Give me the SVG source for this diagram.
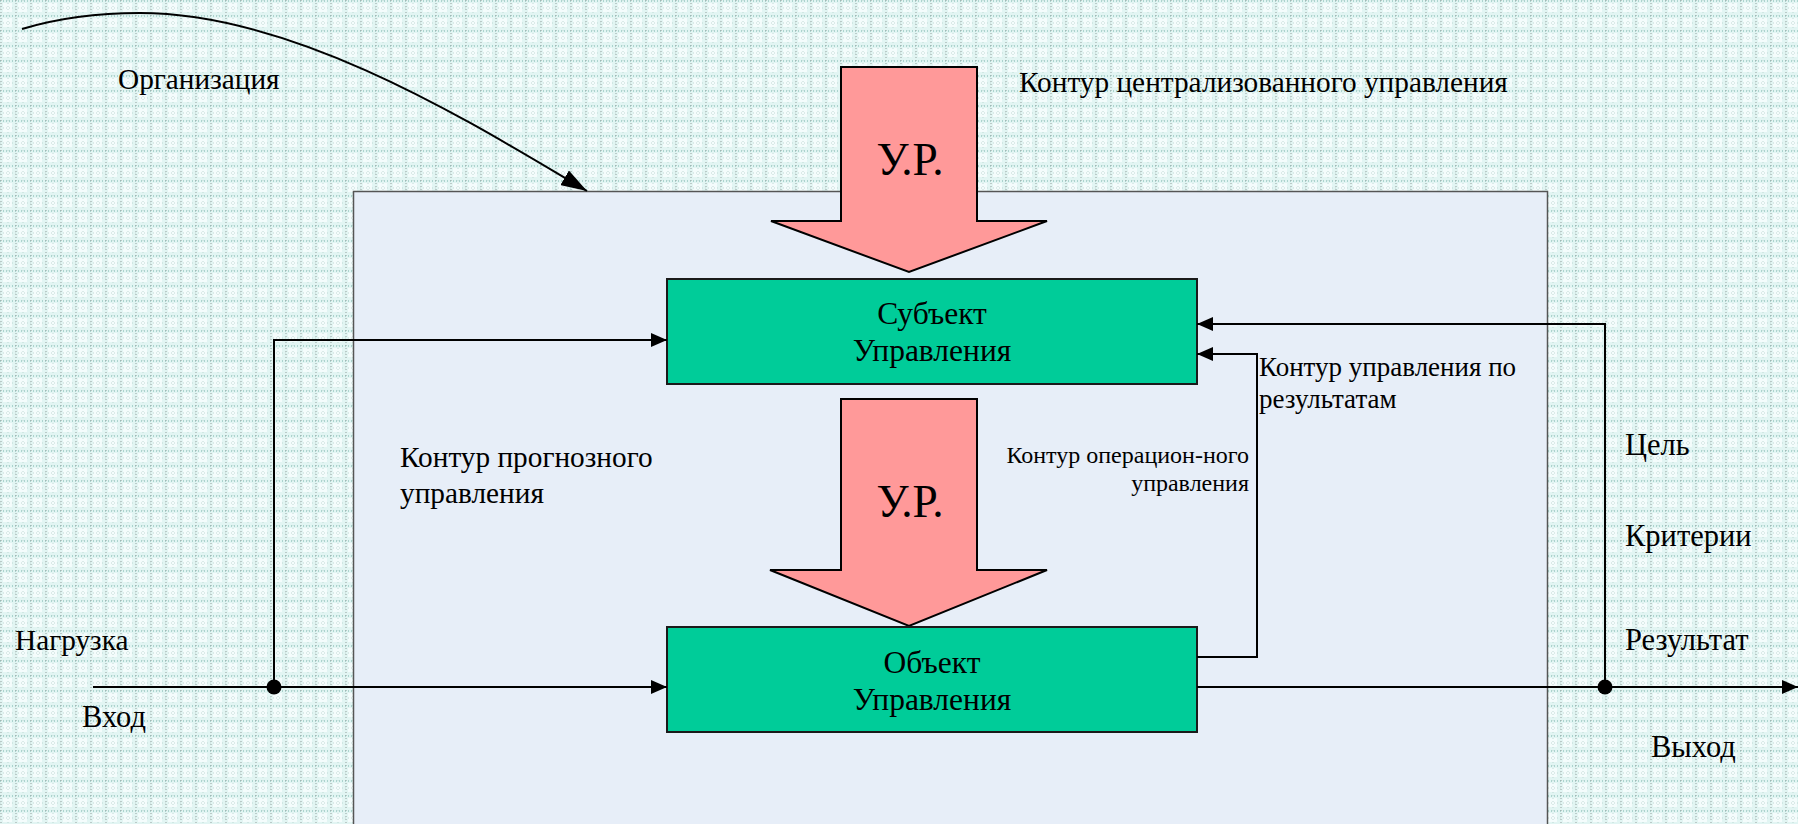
<svg xmlns="http://www.w3.org/2000/svg" width="1798" height="824" viewBox="0 0 1798 824">
<defs>
<pattern id="grid" width="15" height="15" patternUnits="userSpaceOnUse">
<rect width="15" height="15" fill="#e2f5f3"/>
<rect x="3" y="3" width="9" height="9" fill="#f4fcfc"/>
<line x1="0" y1="1" x2="15" y2="1" stroke="#76b3aa" stroke-width="1" stroke-dasharray="1 2"/>
<line x1="1" y1="0" x2="1" y2="15" stroke="#939f9d" stroke-width="1" stroke-dasharray="1 2"/>
<line x1="0" y1="8" x2="15" y2="8" stroke="#c0d9d5" stroke-width="1" stroke-dasharray="1 2"/>
<line x1="8" y1="0" x2="8" y2="15" stroke="#c0d9d5" stroke-width="1" stroke-dasharray="1 2"/>
</pattern>
<marker id="ah" markerUnits="userSpaceOnUse" markerWidth="16" markerHeight="14" refX="16" refY="7" orient="auto">
<path d="M0,0 L16,7 L0,14 Z" fill="#000"/>
</marker>
<marker id="ahBig" markerUnits="userSpaceOnUse" markerWidth="26" markerHeight="17" refX="26" refY="8.5" orient="auto">
<path d="M0,0 L26,8.5 L0,17 Z" fill="#000"/>
</marker>
<style>
text{font-family:'Liberation Serif','DejaVu Serif','Times New Roman',serif;fill:#000}
.t{font-size:29.3px}
.r{font-size:30.5px}
.b{font-size:31.5px}
.s{font-size:24px}
.m{font-size:27px}
.box{fill:#00cc99;stroke:#1a1a1a;stroke-width:2}
.blk{fill:#ff9999;stroke:#000;stroke-width:2;stroke-linejoin:miter}
.ur{font-size:47px}
.c{fill:none;stroke:#000;stroke-width:2}
</style>
</defs>
<rect width="1798" height="824" fill="url(#grid)"/>

<g id="organization" font-family="'Liberation Serif', 'DejaVu Serif', serif">
<rect x="353.5" y="191.5" width="1194" height="640" fill="#e7eef8" stroke="#555" stroke-width="1.5"/>
<text class="t" x="118" y="89">Организация</text>
</g>

<g id="arrow-centralized" font-family="'Liberation Serif', 'DejaVu Serif', serif">
<polygon class="blk" points="841,67 977,67 977,221 1047,221 909,272 771,221 841,221"/>
<text class="ur" x="910" y="175" text-anchor="middle" textLength="67" lengthAdjust="spacingAndGlyphs">У.Р.</text>
</g>

<g id="arrow-operational" font-family="'Liberation Serif', 'DejaVu Serif', serif">
<polygon class="blk" points="841,399 977,399 977,570 1047,570 909,626 770,570 841,570"/>
<text class="ur" x="910" y="517" text-anchor="middle" textLength="67" lengthAdjust="spacingAndGlyphs">У.Р.</text>
</g>

<g id="subject" font-family="'Liberation Serif', 'DejaVu Serif', serif">
<rect class="box" x="667" y="279" width="530" height="105"/>
<text class="b" x="932" y="324" text-anchor="middle">Субъект</text>
<text class="b" x="932" y="361" text-anchor="middle">Управления</text>
</g>

<g id="object" font-family="'Liberation Serif', 'DejaVu Serif', serif">
<rect class="box" x="667" y="627" width="530" height="105"/>
<text class="b" x="932" y="673" text-anchor="middle">Объект</text>
<text class="b" x="932" y="710" text-anchor="middle">Управления</text>
</g>

<g id="labels" font-family="'Liberation Serif', 'DejaVu Serif', serif">
<text class="t" x="1019" y="92">Контур централизованного управления</text>
<text class="t" x="400" y="467">Контур прогнозного</text>
<text class="t" x="400" y="503">управления</text>
<text class="s" x="1249" y="463" text-anchor="end">Контур операцион-ного</text>
<text class="s" x="1249" y="491" text-anchor="end">управления</text>
<text class="m" x="1259" y="376">Контур управления по</text>
<text class="m" x="1259" y="408">результатам</text>
<text class="r" x="1625" y="455">Цель</text>
<text class="r" x="1625" y="546">Критерии</text>
<text class="r" x="1625" y="650">Результат</text>
<text class="r" x="1651" y="757">Выход</text>
<text class="t" x="15" y="650">Нагрузка</text>
<text class="r" x="82" y="727">Вход</text>
</g>

<g id="connectors">
<path class="c" stroke-width="1.5" d="M22,29 C55,19 95,13 140,13 C300,13 480,128 587,191" marker-end="url(#ahBig)"/>
<path class="c" d="M93,687 L667,687" marker-end="url(#ah)"/>
<path class="c" d="M274,687 L274,340 L667,340" marker-end="url(#ah)"/>
<path class="c" d="M1197,687 L1798,687" marker-end="url(#ah)"/>
<path class="c" d="M1605,687 L1605,324 L1197,324" marker-end="url(#ah)"/>
<path class="c" stroke-width="2.5" d="M1197,657 L1257,657 L1257,354 L1197,354" marker-end="url(#ah)"/>
<circle cx="274" cy="687" r="7.5" fill="#000"/>
<circle cx="1605" cy="687" r="7.5" fill="#000"/>
</g>
</svg>
